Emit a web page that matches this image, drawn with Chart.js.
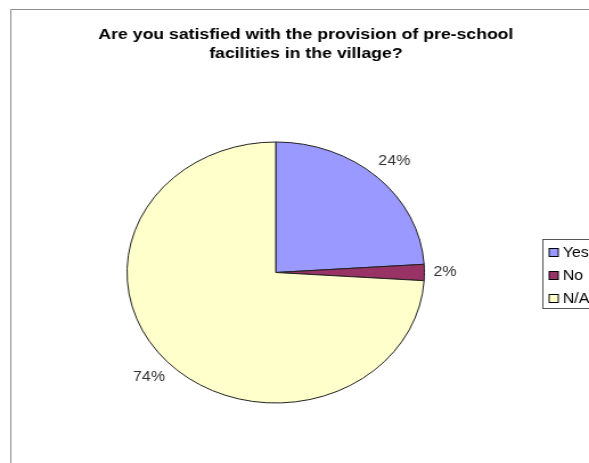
<!DOCTYPE html>
<html>
<head>
<meta charset="utf-8">
<script src="https://cdn.jsdelivr.net/npm/chart.js@4.4.1/dist/chart.umd.min.js"></script>
<style>
    html, body { margin: 0; padding: 0; background: #fff; overflow: hidden; }
    /* the original picture is stretched sideways, so the pie is an ellipse */
    #wrap { width: 517px; height: 463px; transform: scaleX(1.1393); transform-origin: 0 0; }
</style>
</head>
<body>
<div id="wrap"><canvas id="chart" width="517" height="463"></canvas></div>
<script>
const categories = ["Yes", "No", "N/A"];
const values = [24, 2, 74];
const sliceColors = ["#9999FF", "#993366", "#FFFFCC"];
const titleLines = ["Are you satisfied with the provision of pre-school", "facilities in the village?"];

const FONT = "'Liberation Sans', Arial, sans-serif";

// Border of the chart area plus the two-line title
const framePlugin = {
    id: "frame",
    beforeDraw(chart) {
        const ctx = chart.ctx;
        ctx.save();
        ctx.fillStyle = "#fff";
        ctx.fillRect(0, 0, chart.width, chart.height);
        ctx.strokeStyle = "#8c8c8c";
        ctx.lineWidth = 1;
        ctx.beginPath();
        ctx.moveTo(9.5, chart.height);
        ctx.lineTo(9.5, 9.5);
        ctx.lineTo(chart.width, 9.5);
        ctx.stroke();

        ctx.fillStyle = "#000";
        ctx.font = "bold 15.5px " + FONT;
        ctx.textAlign = "center";
        ctx.textBaseline = "alphabetic";
        ctx.fillText(titleLines[0], 268.5, 39);
        ctx.fillText(titleLines[1], 268.5, 58);
        ctx.restore();
    }
};

// Percent labels just outside each slice
const labelPlugin = {
    id: "pctLabels",
    afterDatasetsDraw(chart) {
        const ctx = chart.ctx;
        const meta = chart.getDatasetMeta(0);
        const total = values.reduce((a, b) => a + b, 0);
        ctx.save();
        ctx.font = "14px " + FONT;
        ctx.fillStyle = "#333";
        ctx.textAlign = "center";
        ctx.textBaseline = "middle";
        meta.data.forEach((arc, i) => {
            const p = arc.getProps(["x", "y", "startAngle", "endAngle", "outerRadius"], true);
            const mid = (p.startAngle + p.endAngle) / 2;
            const text = Math.round(values[i] / total * 100) + "%";
            const w = ctx.measureText(text).width;
            const h = 11;
            const cos = Math.cos(mid);
            const sin = Math.sin(mid);
            const dist = p.outerRadius + 8 + Math.abs(cos) * w / 2 + Math.abs(sin) * h / 2;
            ctx.fillText(text, p.x + cos * dist, p.y + sin * dist);
        });
        ctx.restore();
    }
};

// Boxed legend on the right, partly cut off by the picture edge
const legendPlugin = {
    id: "boxLegend",
    afterDraw(chart) {
        const ctx = chart.ctx;
        const colors = chart.data.datasets[0].backgroundColor;
        ctx.save();
        ctx.strokeStyle = "#555";
        ctx.lineWidth = 1;
        ctx.strokeRect(476.5, 239.5, 80, 69);
        ctx.font = "14px " + FONT;
        ctx.textAlign = "left";
        ctx.textBaseline = "middle";
        chart.data.labels.forEach((label, i) => {
            const cy = 252.5 + i * 23;
            ctx.fillStyle = colors[i];
            ctx.fillRect(482, cy - 4, 8, 8);
            ctx.strokeStyle = "#000";
            ctx.strokeRect(482, cy - 4, 8, 8);
            ctx.fillStyle = "#000";
            ctx.fillText(label, 494, cy + 0.5);
        });
        ctx.restore();
    }
};

const ctx = document.getElementById("chart").getContext("2d");
new Chart(ctx, {
    type: "pie",
    data: {
        labels: categories,
        datasets: [
            {
                data: values,
                backgroundColor: sliceColors,
                borderColor: "#222",
                borderWidth: 1,
            },
        ],
    },
    options: {
        responsive: false,
        animation: false,
        layout: {
            padding: { top: 141, bottom: 59, left: 111, right: 144 },
        },
        plugins: {
            legend: { display: false },
            tooltip: { enabled: false },
            title: { display: false },
        },
    },
    plugins: [framePlugin, labelPlugin, legendPlugin],
});
</script>
</body>
</html>
